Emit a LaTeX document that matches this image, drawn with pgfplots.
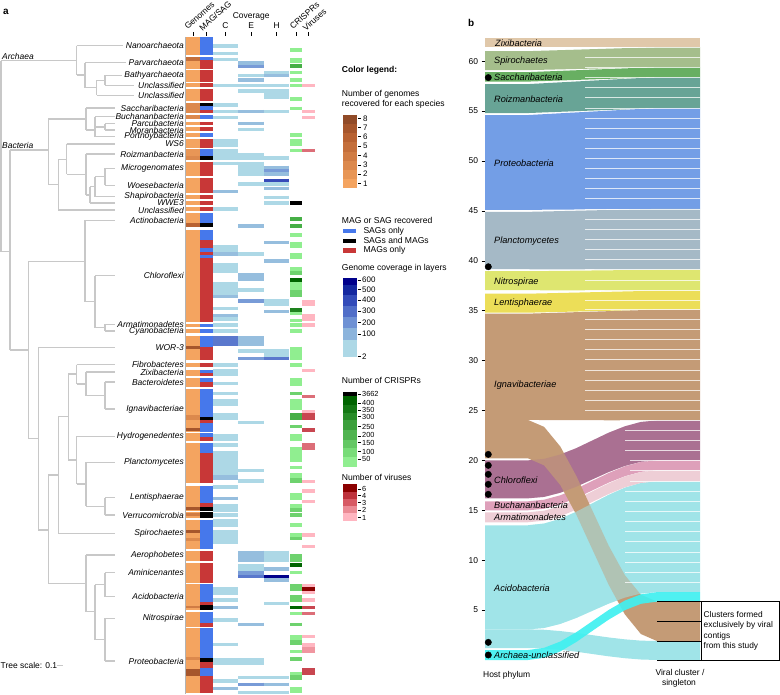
\documentclass[border=0pt]{standalone}
\usepackage{pgfplots}
\pgfplotsset{compat=1.18}
\usepackage{fontspec}
\setmainfont{Liberation Sans}
\definecolor{treeg}{RGB}{200,200,200}
\definecolor{g1}{RGB}{244,164,96}
\definecolor{g2}{RGB}{232,150,86}
\definecolor{g3}{RGB}{220,137,77}
\definecolor{g4}{RGB}{208,124,68}
\definecolor{g5}{RGB}{196,111,59}
\definecolor{g6}{RGB}{184,98,50}
\definecolor{g7}{RGB}{166,86,44}
\definecolor{g8}{RGB}{145,75,40}
\definecolor{sag}{RGB}{70,120,235}
\definecolor{mag}{RGB}{200,55,55}
\definecolor{cv1}{RGB}{173,216,230}
\definecolor{cv2}{RGB}{150,190,222}
\definecolor{cv3}{RGB}{120,155,215}
\definecolor{cv4}{RGB}{90,120,205}
\definecolor{cv5}{RGB}{55,75,185}
\definecolor{cv6}{RGB}{0,0,139}
\definecolor{lb2}{RGB}{20,40,160}
\definecolor{lb3}{RGB}{50,75,185}
\definecolor{lb4}{RGB}{80,110,200}
\definecolor{lb5}{RGB}{110,145,212}
\definecolor{lb6}{RGB}{140,180,220}
\definecolor{cr1}{RGB}{144,238,144}
\definecolor{cr2}{RGB}{110,210,110}
\definecolor{cr3}{RGB}{70,175,70}
\definecolor{cr4}{RGB}{30,130,30}
\definecolor{cr5}{RGB}{0,100,0}
\definecolor{lc2}{RGB}{20,120,20}
\definecolor{lc3}{RGB}{40,140,40}
\definecolor{lc4}{RGB}{60,160,60}
\definecolor{lc5}{RGB}{80,180,80}
\definecolor{lc6}{RGB}{100,200,100}
\definecolor{lc7}{RGB}{120,220,120}
\definecolor{v1}{RGB}{255,182,193}
\definecolor{v2}{RGB}{240,150,160}
\definecolor{v3}{RGB}{220,110,120}
\definecolor{v4}{RGB}{200,70,80}
\definecolor{v6}{RGB}{139,0,0}
\definecolor{lv2}{RGB}{190,50,60}
\definecolor{lv3}{RGB}{215,90,100}
\definecolor{lv4}{RGB}{235,140,150}
\definecolor{czix}{RGB}{224,200,170}
\definecolor{cspiro}{RGB}{165,190,140}
\definecolor{csacch}{RGB}{104,175,98}
\definecolor{croiz}{RGB}{104,164,150}
\definecolor{cproteo}{RGB}{115,158,230}
\definecolor{cplancto}{RGB}{165,185,198}
\definecolor{cnitro}{RGB}{222,230,112}
\definecolor{clenti}{RGB}{236,222,88}
\definecolor{cignav}{RGB}{196,155,118}
\definecolor{cchloro}{RGB}{170,112,146}
\definecolor{cbuch}{RGB}{222,160,186}
\definecolor{carmat}{RGB}{238,206,214}
\definecolor{cacido}{RGB}{160,228,232}
\definecolor{carch}{RGB}{64,240,240}
\tikzset{
 lab/.style={anchor=east, inner sep=0pt, font=\fontsize{8.5}{9}\selectfont\itshape},
 leg/.style={anchor=west, inner sep=0pt, font=\fontsize{8.6}{10}\selectfont},
 tl/.style={anchor=west, inner sep=0pt, font=\fontsize{8}{9}\selectfont},
 tls/.style={anchor=west, inner sep=0pt, font=\fontsize{7.4}{8}\selectfont},
 hd/.style={anchor=base west, inner sep=0pt, rotate=42, font=\fontsize{8.5}{9}\selectfont},
 blab/.style={anchor=west, inner sep=0pt, font=\fontsize{9.2}{10}\selectfont\itshape},
}
\begin{document}
\begin{tikzpicture}
\begin{axis}[at={(0,0)}, anchor=south west, width=780bp, height=695bp, scale only axis,
  xmin=0, xmax=780, ymin=0, ymax=695, y dir=reverse, hide axis, clip=false,
  unbounded coords=jump]
\addplot[draw=none] coordinates {(0,0)(780,695)};
% ---------- tree ----------
\addplot[treeg, line width=1.2bp] coordinates {
(1,60.7)(1,251.7)(0,nan)(1,60.7)(76.7,60.7)(0,nan)(76.7,45.7)(76.7,75)(0,nan)(76.7,45.7)(123,45.7)(0,nan)
(76.7,75)(85,75)(0,nan)(85,62.7)(85,87.7)(0,nan)(85,62.7)(126,62.7)(0,nan)(85,87.7)(96.7,87.7)(0,nan)
(96.7,80.3)(96.7,95.3)(0,nan)(96.7,95.3)(134,95.3)(0,nan)(96.7,80.3)(105,80.3)(0,nan)(105,75.3)(105,85.3)(0,nan)
(105,75.3)(122,75.3)(0,nan)(105,85.3)(134,85.3)(0,nan)
(1,251.7)(10,251.7)(0,nan)(10,150)(10,350)(0,nan)(10,150)(48.3,150)(0,nan)(48.3,119)(48.3,184.6)(0,nan)
(48.3,119)(86,119)(0,nan)(86,108)(86,130)(0,nan)(86,108)(115,108)(0,nan)(86,130)(95,130)(0,nan)
(95,116.7)(95,136.7)(0,nan)(95,116.7)(115,116.7)(0,nan)(95,136.7)(115,136.7)(0,nan)(95,127)(105,127)(0,nan)
(105,123.7)(105,130)(0,nan)(105,123.7)(115,123.7)(0,nan)(105,130)(115,130)(0,nan)
(48.3,184.6)(58.3,184.6)(0,nan)(58.3,159.2)(58.3,210)(0,nan)(58.3,210)(115,210)(0,nan)(58.3,159.2)(66.7,159.2)(0,nan)
(66.7,144)(66.7,174.5)(0,nan)(66.7,144)(115,144)(0,nan)(66.7,174.5)(86,174.5)(0,nan)(86,154)(86,194.9)(0,nan)
(86,154)(115,154)(0,nan)(86,194.9)(90,194.9)(0,nan)(90,186.7)(90,203)(0,nan)(90,203)(115,203)(0,nan)
(90,186.7)(95,186.7)(0,nan)(95,176.8)(95,196.7)(0,nan)(95,196.7)(115,196.7)(0,nan)(95,176.8)(105,176.8)(0,nan)
(105,168.3)(105,185.3)(0,nan)(105,168.3)(115,168.3)(0,nan)(105,185.3)(115,185.3)(0,nan)
(10,350)(28.3,350)(0,nan)(28.3,261.7)(28.3,438.3)(0,nan)(28.3,261.7)(85,261.7)(0,nan)(85,220.3)(85,301.7)(0,nan)
(85,220.3)(115,220.3)(0,nan)(85,301.7)(95,301.7)(0,nan)(95,275.7)(95,327.7)(0,nan)(95,275.7)(115,275.7)(0,nan)
(95,327.7)(105,327.7)(0,nan)(105,324.3)(105,331)(0,nan)(105,324.3)(115,324.3)(0,nan)(105,331)(115,331)(0,nan)
(28.3,438.3)(38.3,438.3)(0,nan)(38.3,347.3)(38.3,530)(0,nan)(38.3,347.3)(115,347.3)(0,nan)(38.3,530)(48.3,530)(0,nan)
(48.3,475)(48.3,583.3)(0,nan)(48.3,475)(58.3,475)(0,nan)(58.3,416.7)(58.3,533.3)(0,nan)(58.3,533.3)(115,533.3)(0,nan)
(58.3,416.7)(68.3,416.7)(0,nan)(68.3,374)(68.3,460)(0,nan)(68.3,374)(76.7,374)(0,nan)(76.7,364.7)(76.7,384)(0,nan)
(76.7,364.7)(115,364.7)(0,nan)(76.7,384)(86,384)(0,nan)(86,372)(86,395.5)(0,nan)(86,372)(115,372)(0,nan)
(86,395.5)(105,395.5)(0,nan)(105,382)(105,409)(0,nan)(105,382)(115,382)(0,nan)(105,409)(115,409)(0,nan)
(68.3,460)(76.7,460)(0,nan)(76.7,436.3)(76.7,484)(0,nan)(76.7,436.3)(115,436.3)(0,nan)(76.7,484)(86,484)(0,nan)
(86,462.3)(86,506.4)(0,nan)(86,462.3)(115,462.3)(0,nan)(86,506.4)(105,506.4)(0,nan)(105,497.7)(105,515)(0,nan)
(105,497.7)(115,497.7)(0,nan)(105,515)(115,515)(0,nan)
(48.3,583.3)(86,583.3)(0,nan)(86,555)(86,611.7)(0,nan)(86,555)(115,555)(0,nan)(86,611.7)(95,611.7)(0,nan)
(95,584.7)(95,639.7)(0,nan)(95,584.7)(105,584.7)(0,nan)(105,572.7)(105,596.7)(0,nan)(105,572.7)(115,572.7)(0,nan)
(105,596.7)(115,596.7)(0,nan)(95,639.7)(105,639.7)(0,nan)(105,618.3)(105,661)(0,nan)(105,618.3)(115,618.3)(0,nan)
(105,661)(115,661)(0,nan)(56.7,665.7)(63.3,665.7)};
% ---------- genomes column ----------
\addplot[black!30, line width=0.7bp] coordinates {(185.6,37)(185.6,694)};
\addplot[g1, line width=14.3bp] coordinates {
(192.9,37.3)(192.9,55)(0,nan)(192.9,57.3)(192.9,69)(0,nan)(192.9,70)(192.9,81.7)(0,nan)(192.9,83.3)(192.9,87.3)(0,nan)
(192.9,89.3)(192.9,101)(0,nan)(192.9,103.3)(192.9,113.3)(0,nan)(192.9,115)(192.9,119.3)(0,nan)(192.9,121.7)(192.9,125.3)(0,nan)
(192.9,127.3)(192.9,131)(0,nan)(192.9,133.3)(192.9,137.3)(0,nan)(192.9,139.3)(192.9,147.7)(0,nan)(192.9,148.7)(192.9,160)(0,nan)
(192.9,161.7)(192.9,176)(0,nan)(192.9,178.3)(192.9,193.3)(0,nan)(192.9,195)(192.9,199)(0,nan)(192.9,201)(192.9,205)(0,nan)
(192.9,206.7)(192.9,211)(0,nan)(192.9,213.3)(192.9,227.3)(0,nan)(192.9,230)(192.9,321.7)(0,nan)(192.9,324)(192.9,326.7)(0,nan)
(192.9,329.3)(192.9,333.3)(0,nan)(192.9,335.7)(192.9,360)(0,nan)(192.9,362.7)(192.9,367.3)(0,nan)(192.9,370)(192.9,376)(0,nan)
(192.9,378.3)(192.9,386.7)(0,nan)(192.9,389)(192.9,431.7)(0,nan)(192.9,433.3)(192.9,440.7)(0,nan)(192.9,443.3)(192.9,483.3)(0,nan)
(192.9,485.5)(192.9,510.5)(0,nan)(192.9,512)(192.9,517.5)(0,nan)(192.9,520)(192.9,549)(0,nan)(192.9,551)(192.9,561)(0,nan)
(192.9,563.3)(192.9,582.7)(0,nan)(192.9,584)(192.9,610)(0,nan)(192.9,611.7)(192.9,626.7)(0,nan)(192.9,628.3)(192.9,693)(0,nan)
(350,179.1)(350,188.3)};
\addplot[g2, line width=14.3bp] coordinates {(192.9,148.7)(192.9,156)(0,nan)(350,170)(350,179.1)};
\addplot[g3, line width=14.3bp] coordinates {(192.9,103.3)(192.9,113.3)(0,nan)(192.9,115)(192.9,119.3)(0,nan)(192.9,156)(192.9,160)(0,nan)
(192.9,415)(192.9,420)(0,nan)(192.9,538.3)(192.9,541)(0,nan)(192.9,657.3)(192.9,660)(0,nan)(350,160.8)(350,170)};
\addplot[g4, line width=14.3bp] coordinates {(192.9,512.7)(192.9,516)(0,nan)(192.9,605.7)(192.9,608.3)(0,nan)(350,151.6)(350,160.8)};
\addplot[g5, line width=14.3bp] coordinates {(192.9,57.3)(192.9,61)(0,nan)(350,142.5)(350,151.6)};
\addplot[g6, line width=14.3bp] coordinates {(192.9,222.7)(192.9,226.7)(0,nan)(350,133.3)(350,142.5)};
\addplot[g7, line width=14.3bp] coordinates {(192.9,346)(192.9,349.3)(0,nan)(192.9,428.3)(192.9,430.7)(0,nan)(192.9,507.3)(192.9,510)(0,nan)
(192.9,530)(192.9,533.3)(0,nan)(192.9,669.3)(192.9,676)(0,nan)(350,124.2)(350,133.3)};
\addplot[g8, line width=14.3bp] coordinates {(350,115)(350,124.2)};
% ---------- MAG/SAG column ----------
\addplot[sag, line width=12.7bp] coordinates {
(206.4,37.3)(206.4,55)(0,nan)(206.4,57.3)(206.4,60.5)(0,nan)(206.4,106)(206.4,109.7)(0,nan)(206.4,115)(206.4,119.3)(0,nan)
(206.4,133.3)(206.4,137.3)(0,nan)(206.4,148.7)(206.4,155.7)(0,nan)(206.4,213.3)(206.4,222.7)(0,nan)(206.4,230)(206.4,240)(0,nan)
(206.4,248.3)(206.4,251.7)(0,nan)(206.4,255)(206.4,258.3)(0,nan)(206.4,324)(206.4,326.7)(0,nan)(206.4,329.3)(206.4,333.3)(0,nan)
(206.4,335.7)(206.4,346.7)(0,nan)(206.4,370)(206.4,373)(0,nan)(206.4,378.3)(206.4,382)(0,nan)(206.4,389)(206.4,416.7)(0,nan)
(206.4,423.3)(206.4,431.7)(0,nan)(206.4,433.3)(206.4,437)(0,nan)(206.4,443.3)(206.4,453.3)(0,nan)(206.4,485.5)(206.4,503.3)(0,nan)
(206.4,520)(206.4,549)(0,nan)(206.4,584)(206.4,601.7)(0,nan)(206.4,611.7)(206.4,623.3)(0,nan)(206.4,628.3)(206.4,658.3)(0,nan)
(206.4,668.3)(206.4,676)(0,nan)(349.4,228.7)(349.4,233.3)};
\addplot[black, line width=12.7bp] coordinates {
(206.4,103.3)(206.4,106)(0,nan)(206.4,155.7)(206.4,160)(0,nan)(206.4,222.7)(206.4,227.3)(0,nan)(206.4,416.7)(206.4,420)(0,nan)
(206.4,506.7)(206.4,510.5)(0,nan)(206.4,512)(206.4,517.5)(0,nan)(206.4,605)(206.4,610)(0,nan)(206.4,658.3)(206.4,661.7)(0,nan)
(349.4,238.5)(349.4,243.2)};
\addplot[mag, line width=12.7bp] coordinates {
(206.4,60.5)(206.4,69)(0,nan)(206.4,70)(206.4,81.7)(0,nan)(206.4,83.3)(206.4,87.3)(0,nan)(206.4,89.3)(206.4,101)(0,nan)
(206.4,109.7)(206.4,113.3)(0,nan)(206.4,121.7)(206.4,125.3)(0,nan)(206.4,127.3)(206.4,131)(0,nan)(206.4,139.3)(206.4,147.7)(0,nan)
(206.4,161.7)(206.4,176)(0,nan)(206.4,178.3)(206.4,193.3)(0,nan)(206.4,195)(206.4,199)(0,nan)(206.4,201)(206.4,205)(0,nan)
(206.4,206.7)(206.4,211)(0,nan)(206.4,240)(206.4,248.3)(0,nan)(206.4,251.7)(206.4,255)(0,nan)(206.4,258.3)(206.4,321.7)(0,nan)
(206.4,346.7)(206.4,360)(0,nan)(206.4,362.7)(206.4,367.3)(0,nan)(206.4,373)(206.4,376)(0,nan)(206.4,382)(206.4,386.7)(0,nan)
(206.4,420)(206.4,423.3)(0,nan)(206.4,437)(206.4,440.7)(0,nan)(206.4,453.3)(206.4,483.3)(0,nan)(206.4,503.3)(206.4,506.7)(0,nan)
(206.4,551)(206.4,561)(0,nan)(206.4,563.3)(206.4,582.7)(0,nan)(206.4,601.7)(206.4,605)(0,nan)(206.4,623.3)(206.4,626.7)(0,nan)
(206.4,661.7)(206.4,668.3)(0,nan)(206.4,676)(206.4,693)(0,nan)(349.4,248)(349.4,252.7)};
% ---------- coverage C ----------
\addplot[cv1, line width=25.6bp] coordinates {
(225.5,44.3)(225.5,47.7)(0,nan)(225.5,51.7)(225.5,55)(0,nan)(225.5,57.7)(225.5,61)(0,nan)(225.5,84)(225.5,87.3)(0,nan)
(225.5,103.3)(225.5,106.7)(0,nan)(225.5,110)(225.5,113.3)(0,nan)(225.5,116)(225.5,119.3)(0,nan)(225.5,139.3)(225.5,146.7)(0,nan)
(225.5,149)(225.5,160)(0,nan)(225.5,161.7)(225.5,165.3)(0,nan)(225.5,207.3)(225.5,210.7)(0,nan)(225.5,245)(225.5,252.3)(0,nan)
(225.5,262.7)(225.5,273.3)(0,nan)(225.5,281.7)(225.5,295)(0,nan)(225.5,306.7)(225.5,310)(0,nan)(225.5,317.3)(225.5,320.7)(0,nan)
(225.5,323.3)(225.5,326.7)(0,nan)(225.5,329.3)(225.5,332.7)(0,nan)(225.5,363.3)(225.5,366.7)(0,nan)(225.5,369)(225.5,376)(0,nan)
(225.5,381.7)(225.5,385)(0,nan)(225.5,391.7)(225.5,395)(0,nan)(225.5,399)(225.5,405.7)(0,nan)(225.5,413.3)(225.5,420)(0,nan)
(225.5,434)(225.5,440.7)(0,nan)(225.5,443.3)(225.5,446.7)(0,nan)(225.5,450.7)(225.5,475)(0,nan)(225.5,485)(225.5,489.3)(0,nan)
(225.5,504)(225.5,511.7)(0,nan)(225.5,513.3)(225.5,516.7)(0,nan)(225.5,519.3)(225.5,526.7)(0,nan)(225.5,530)(225.5,544)(0,nan)
(225.5,587.3)(225.5,595)(0,nan)(225.5,598.3)(225.5,601.7)(0,nan)(225.5,618.3)(225.5,621.7)(0,nan)(225.5,642.7)(225.5,646)(0,nan)
(225.5,658.3)(225.5,665)(0,nan)(225.5,679.3)(225.5,682.7)};
\addplot[cv2, line width=25.6bp] coordinates {
(225.5,190)(225.5,193.3)(0,nan)(225.5,252.3)(225.5,255.7)(0,nan)(225.5,295)(225.5,298.3)(0,nan)(225.5,314)(225.5,317.3)(0,nan)
(225.5,475)(225.5,480)(0,nan)(225.5,496.7)(225.5,500)(0,nan)(225.5,606)(225.5,609.3)(0,nan)(225.5,686.7)(225.5,690)};
\addplot[cv4, line width=25.6bp] coordinates {(225.5,336)(225.5,346)};
% ---------- coverage E ----------
\addplot[cv1, line width=25.7bp] coordinates {
(251.2,74)(251.2,77.3)(0,nan)(251.2,84)(251.2,87.3)(0,nan)(251.2,89.3)(251.2,92.7)(0,nan)(251.2,127.7)(251.2,131)(0,nan)
(251.2,153.3)(251.2,160)(0,nan)(251.2,161.7)(251.2,176)(0,nan)(251.2,182.3)(251.2,185.7)(0,nan)(251.2,252.3)(251.2,255.7)(0,nan)
(251.2,288.3)(251.2,291.7)(0,nan)(251.2,349.3)(251.2,352.7)(0,nan)(251.2,420.7)(251.2,424)(0,nan)(251.2,469)(251.2,472.3)(0,nan)
(251.2,479.3)(251.2,483.3)(0,nan)(251.2,564)(251.2,570.7)(0,nan)(251.2,658.3)(251.2,665)(0,nan)(251.2,676)(251.2,679.3)(0,nan)
(251.2,690.7)(251.2,694)};
\addplot[cv2, line width=25.7bp] coordinates {
(251.2,61)(251.2,65)(0,nan)(251.2,78.3)(251.2,81.7)(0,nan)(251.2,110)(251.2,113.3)(0,nan)(251.2,121.7)(251.2,125)(0,nan)
(251.2,224.3)(251.2,227.7)(0,nan)(251.2,273.3)(251.2,280.7)(0,nan)(251.2,336)(251.2,346)(0,nan)(251.2,550.7)(251.2,561.7)(0,nan)
(251.2,622.7)(251.2,626)};
\addplot[cv3, line width=25.7bp] coordinates {
(251.2,65)(251.2,68.3)(0,nan)(251.2,299.3)(251.2,302.7)(0,nan)(251.2,356.7)(251.2,360)(0,nan)(251.2,570.7)(251.2,574.5)(0,nan)
(251.2,682.7)(251.2,686)};
\addplot[cv4, line width=25.7bp] coordinates {(251.2,574.5)(251.2,578.3)};
% ---------- coverage H ----------
\addplot[cv1, line width=25.3bp] coordinates {
(276.7,70.7)(276.7,74)(0,nan)(276.7,84)(276.7,87.3)(0,nan)(276.7,89.3)(276.7,99.3)(0,nan)(276.7,110)(276.7,113.3)(0,nan)
(276.7,156)(276.7,160)(0,nan)(276.7,182.3)(276.7,185.7)(0,nan)(276.7,195.7)(276.7,199)(0,nan)(276.7,201.3)(276.7,204.7)(0,nan)
(276.7,299.3)(276.7,306)(0,nan)(276.7,349.3)(276.7,356.7)(0,nan)(276.7,550.7)(276.7,561.7)(0,nan)(276.7,601.7)(276.7,605)(0,nan)
(276.7,676)(276.7,679.3)(0,nan)(276.7,690.7)(276.7,694)};
\addplot[cv2, line width=25.3bp] coordinates {
(276.7,74)(276.7,77.3)(0,nan)(276.7,165.7)(276.7,169)(0,nan)(276.7,172.3)(276.7,176)(0,nan)(276.7,186.7)(276.7,190)(0,nan)
(276.7,241)(276.7,244.3)(0,nan)(276.7,259.3)(276.7,262.7)(0,nan)(276.7,310)(276.7,313.3)(0,nan)(276.7,567.3)(276.7,570.7)(0,nan)
(276.7,578.3)(276.7,581.7)(0,nan)(276.7,682.7)(276.7,686)};
\addplot[cv3, line width=25.3bp] coordinates {(276.7,169)(276.7,172.3)};
\addplot[cv4, line width=25.3bp] coordinates {(276.7,356.7)(276.7,360)};
\addplot[cv5, line width=25.3bp] coordinates {(276.7,178.7)(276.7,182.3)};
\addplot[cv6, line width=25.3bp] coordinates {(276.7,575)(276.7,578.3)};
% ---------- CRISPRs ----------
\addplot[cr1, line width=12.3bp] coordinates {
(296.2,48.3)(296.2,51.7)(0,nan)(296.2,57.7)(296.2,63.3)(0,nan)(296.2,70.7)(296.2,74)(0,nan)(296.2,78.3)(296.2,81.7)(0,nan)
(296.2,84)(296.2,87.3)(0,nan)(296.2,97.3)(296.2,100.7)(0,nan)(296.2,106.7)(296.2,110)(0,nan)(296.2,133.3)(296.2,136.7)(0,nan)
(296.2,139.3)(296.2,146)(0,nan)(296.2,149)(296.2,152.3)(0,nan)(296.2,233.3)(296.2,236.7)(0,nan)(296.2,241.7)(296.2,248.3)(0,nan)
(296.2,252.7)(296.2,259.3)(0,nan)(296.2,267.3)(296.2,271)(0,nan)(296.2,281.7)(296.2,290)(0,nan)(296.2,311.7)(296.2,315)(0,nan)
(296.2,319)(296.2,322.3)(0,nan)(296.2,323.3)(296.2,326.7)(0,nan)(296.2,329.3)(296.2,332.7)(0,nan)(296.2,346.7)(296.2,360)(0,nan)
(296.2,363.3)(296.2,366.7)(0,nan)(296.2,378.3)(296.2,385.7)(0,nan)(296.2,399)(296.2,410)(0,nan)(296.2,434)(296.2,440.7)(0,nan)
(296.2,447.3)(296.2,461.7)(0,nan)(296.2,465.7)(296.2,469)(0,nan)(296.2,473.3)(296.2,478)(0,nan)(296.2,493.3)(296.2,500)(0,nan)
(296.2,504)(296.2,508)(0,nan)(296.2,523.3)(296.2,526.7)(0,nan)(296.2,533.3)(296.2,537)(0,nan)(296.2,570.7)(296.2,574)(0,nan)
(296.2,611.7)(296.2,615)(0,nan)(296.2,635)(296.2,640)(0,nan)(296.2,650)(296.2,653.3)(0,nan)(296.2,671.7)(296.2,675)(0,nan)
(296.2,686.7)(296.2,693.3)};
\addplot[cr2, line width=12.3bp] coordinates {
(296.2,271)(296.2,274.7)(0,nan)(296.2,290)(296.2,296.7)(0,nan)(296.2,391.7)(296.2,395)(0,nan)(296.2,425)(296.2,428.3)(0,nan)
(296.2,478)(296.2,483.3)(0,nan)(296.2,508)(296.2,511.7)(0,nan)(296.2,513.3)(296.2,516.7)(0,nan)(296.2,537)(296.2,540)(0,nan)
(296.2,554)(296.2,561.7)(0,nan)(296.2,584)(296.2,590.7)(0,nan)(296.2,595)(296.2,601.7)(0,nan)(296.2,622.7)(296.2,626)(0,nan)
(296.2,640)(296.2,645)(0,nan)(296.2,657.3)(296.2,660.7)(0,nan)(296.2,675)(296.2,680)};
\addplot[cr3, line width=12.3bp] coordinates {
(296.2,64.3)(296.2,68.3)(0,nan)(296.2,217.3)(296.2,220.7)(0,nan)(296.2,224.3)(296.2,227.7)(0,nan)(296.2,413.3)(296.2,420)};
\addplot[cr4, line width=12.3bp] coordinates {(296.2,308.3)(296.2,311.7)};
\addplot[cr5, line width=12.3bp] coordinates {(296.2,278.3)(296.2,281.7)(0,nan)(296.2,563.3)(296.2,567.3)(0,nan)(296.2,606)(296.2,609.3)};
\addplot[black, line width=12.3bp] coordinates {(296.2,201.3)(296.2,204.7)};
% ---------- Viruses ----------
\addplot[v1, line width=12.7bp] coordinates {
(308.7,84)(308.7,87.3)(0,nan)(308.7,110)(308.7,113.3)(0,nan)(308.7,116)(308.7,119.3)(0,nan)(308.7,300)(308.7,306)(0,nan)
(308.7,314)(308.7,321)(0,nan)(308.7,323.3)(308.7,327.3)(0,nan)(308.7,369)(308.7,372.3)(0,nan)(308.7,410)(308.7,413.3)(0,nan)
(308.7,480)(308.7,483.3)(0,nan)(308.7,489.3)(308.7,492.7)(0,nan)(308.7,500)(308.7,503.3)(0,nan)(308.7,533.3)(308.7,536.7)(0,nan)
(308.7,545)(308.7,548.3)(0,nan)(308.7,584)(308.7,587.3)(0,nan)(308.7,590.7)(308.7,594)(0,nan)(308.7,598.3)(308.7,601.7)(0,nan)
(308.7,635)(308.7,638.3)(0,nan)(308.7,643.3)(308.7,647)};
\addplot[v2, line width=12.7bp] coordinates {(308.7,647)(308.7,653.3)};
\addplot[v3, line width=12.7bp] coordinates {(308.7,149)(308.7,152.3)(0,nan)(308.7,395)(308.7,398.3)(0,nan)(308.7,443.3)(308.7,450)(0,nan)(308.7,611.7)(308.7,615)};
\addplot[v4, line width=12.7bp] coordinates {(308.7,413.3)(308.7,420)(0,nan)(308.7,428.3)(308.7,431.7)(0,nan)(308.7,606)(308.7,609.3)(0,nan)(308.7,668.3)(308.7,675)};
\addplot[v6, line width=12.7bp] coordinates {(308.7,587.3)(308.7,590.7)};
% ---------- legend colour bars ----------
\addplot[cv6, line width=14bp] coordinates {(349.7,278.3)(349.7,285)};
\addplot[lb2, line width=14bp] coordinates {(349.7,285)(349.7,295)};
\addplot[lb3, line width=14bp] coordinates {(349.7,295)(349.7,306)};
\addplot[lb4, line width=14bp] coordinates {(349.7,306)(349.7,317)};
\addplot[lb5, line width=14bp] coordinates {(349.7,317)(349.7,328)};
\addplot[lb6, line width=14bp] coordinates {(349.7,328)(349.7,340)};
\addplot[cv1, line width=14bp] coordinates {(349.7,340)(349.7,357.3)};
\addplot[black, line width=14bp] coordinates {(349.7,391.7)(349.7,396)};
\addplot[cr5, line width=14bp] coordinates {(349.7,396)(349.7,405)};
\addplot[lc2, line width=14bp] coordinates {(349.7,405)(349.7,413)};
\addplot[lc3, line width=14bp] coordinates {(349.7,413)(349.7,420)};
\addplot[lc4, line width=14bp] coordinates {(349.7,420)(349.7,430)};
\addplot[lc5, line width=14bp] coordinates {(349.7,430)(349.7,440)};
\addplot[lc6, line width=14bp] coordinates {(349.7,440)(349.7,448)};
\addplot[lc7, line width=14bp] coordinates {(349.7,448)(349.7,457)};
\addplot[cr1, line width=14bp] coordinates {(349.7,457)(349.7,466.7)};
\addplot[v6, line width=14bp] coordinates {(349.7,484.3)(349.7,492)};
\addplot[lv2, line width=14bp] coordinates {(349.7,492)(349.7,499)};
\addplot[lv3, line width=14bp] coordinates {(349.7,499)(349.7,506)};
\addplot[lv4, line width=14bp] coordinates {(349.7,506)(349.7,513)};
\addplot[v1, line width=14bp] coordinates {(349.7,513)(349.7,521)};
% legend ticks and header ticks
\addplot[black, line width=0.5bp] coordinates {
(358,118.3)(361,118.3)(0,nan)(358,127.7)(361,127.7)(0,nan)(358,136.7)(361,136.7)(0,nan)(358,146)(361,146)(0,nan)
(358,155.7)(361,155.7)(0,nan)(358,165)(361,165)(0,nan)(358,174)(361,174)(0,nan)(358,183.3)(361,183.3)(0,nan)
(357.5,280)(360.5,280)(0,nan)(357.5,289.3)(360.5,289.3)(0,nan)(357.5,300)(360.5,300)(0,nan)(357.5,311)(360.5,311)(0,nan)
(357.5,322.7)(360.5,322.7)(0,nan)(357.5,334)(360.5,334)(0,nan)(357.5,356.7)(360.5,356.7)(0,nan)
(357.5,394)(360.5,394)(0,nan)(357.5,403.3)(360.5,403.3)(0,nan)(357.5,410.7)(360.5,410.7)(0,nan)(357.5,416.7)(360.5,416.7)(0,nan)
(357.5,426.7)(360.5,426.7)(0,nan)(357.5,436)(360.5,436)(0,nan)(357.5,442.3)(360.5,442.3)(0,nan)(357.5,451.7)(360.5,451.7)(0,nan)
(357.5,459)(360.5,459)(0,nan)
(357.5,489)(360.5,489)(0,nan)(357.5,495.7)(360.5,495.7)(0,nan)(357.5,502.3)(360.5,502.3)(0,nan)(357.5,510)(360.5,510)(0,nan)
(357.5,517.7)(360.5,517.7)(0,nan)
(192.9,32.3)(192.9,36)(0,nan)(206.4,32.3)(206.4,36)(0,nan)(225.5,32.3)(225.5,36)(0,nan)(251.2,32.3)(251.2,36)(0,nan)
(276.7,32.3)(276.7,36)(0,nan)(296.2,32.3)(296.2,36)(0,nan)(308.7,32.3)(308.7,36)};
% ---------- texts panel a ----------
\node[anchor=west, inner sep=0pt, font=\fontsize{10}{12}\selectfont\bfseries] at (axis cs:3,11.7) {a};
\node[anchor=west, inner sep=0pt, font=\fontsize{10}{12}\selectfont\bfseries] at (axis cs:468,22.7) {b};
\node[hd] at (axis cs:187.7,30) {Genomes};
\node[hd] at (axis cs:202.5,31.5) {MAG/SAG};
\node[hd] at (axis cs:293,30) {CRISPRs};
\node[hd] at (axis cs:306,31.5) {Viruses};
\node[inner sep=0pt, font=\fontsize{8.5}{9}\selectfont] at (axis cs:251.2,16.7) {Coverage};
\node[inner sep=0pt, font=\fontsize{8.5}{9}\selectfont] at (axis cs:225.5,25.7) {C};
\node[inner sep=0pt, font=\fontsize{8.5}{9}\selectfont] at (axis cs:251.2,25.7) {E};
\node[inner sep=0pt, font=\fontsize{8.5}{9}\selectfont] at (axis cs:276.7,25.7) {H};
\node[anchor=west, inner sep=0pt, font=\fontsize{8.5}{9}\selectfont\itshape] at (axis cs:2,56.2) {Archaea};
\node[anchor=west, inner sep=0pt, font=\fontsize{8.5}{9}\selectfont\itshape] at (axis cs:2,145.5) {Bacteria};
\node[anchor=west, inner sep=0pt, font=\fontsize{8.5}{9}\selectfont] at (axis cs:0.5,665.7) {Tree scale: 0.1};
\node[lab] at (axis cs:184,45.7) {Nanoarchaeota};
\node[lab] at (axis cs:184,62.7) {Parvarchaeota};
\node[lab] at (axis cs:184,75.3) {Bathyarchaeota};
\node[lab] at (axis cs:184,85.3) {Unclassified};
\node[lab] at (axis cs:184,95.3) {Unclassified};
\node[lab] at (axis cs:184,108) {Saccharibacteria};
\node[lab] at (axis cs:184,116.7) {Buchananbacteria};
\node[lab] at (axis cs:184,123.7) {Parcubacteria};
\node[lab] at (axis cs:184,130) {Moranbacteria};
\node[lab] at (axis cs:184,136.7) {Portnoybacteria};
\node[lab] at (axis cs:184,144) {WS6};
\node[lab] at (axis cs:184,154) {Roizmanbacteria};
\node[lab] at (axis cs:184,168.3) {Microgenomates};
\node[lab] at (axis cs:184,185.3) {Woesebacteria};
\node[lab] at (axis cs:184,196.7) {Shapirobacteria};
\node[lab] at (axis cs:184,203) {WWE3};
\node[lab] at (axis cs:184,210) {Unclassified};
\node[lab] at (axis cs:184,220.3) {Actinobacteria};
\node[lab] at (axis cs:184,275.7) {Chloroflexi};
\node[lab] at (axis cs:184,324.3) {Armatimonadetes};
\node[lab] at (axis cs:184,331) {Cyanobacteria};
\node[lab] at (axis cs:184,347.3) {WOR-3};
\node[lab] at (axis cs:184,364.7) {Fibrobacteres};
\node[lab] at (axis cs:184,372) {Zixibacteria};
\node[lab] at (axis cs:184,382) {Bacteroidetes};
\node[lab] at (axis cs:184,409) {Ignavibacteriae};
\node[lab] at (axis cs:184,436.3) {Hydrogenedentes};
\node[lab] at (axis cs:184,462.3) {Planctomycetes};
\node[lab] at (axis cs:184,497.7) {Lentisphaerae};
\node[lab] at (axis cs:184,515) {Verrucomicrobia};
\node[lab] at (axis cs:184,533.3) {Spirochaetes};
\node[lab] at (axis cs:184,555) {Aerophobetes};
\node[lab] at (axis cs:184,572.7) {Aminicenantes};
\node[lab] at (axis cs:184,596.7) {Acidobacteria};
\node[lab] at (axis cs:184,618.3) {Nitrospirae};
\node[lab] at (axis cs:184,661) {Proteobacteria};
% legend texts
\node[leg, font=\fontsize{8.6}{10}\selectfont\bfseries] at (axis cs:341.7,70.7) {Color legend:};
\node[leg] at (axis cs:341.7,94) {Number of genomes};
\node[leg] at (axis cs:341.7,104.7) {recovered for each species};
\node[leg] at (axis cs:341.7,220) {MAG or SAG recovered};
\node[leg] at (axis cs:363.3,231) {SAGs only};
\node[leg] at (axis cs:363.3,240.9) {SAGs and MAGs};
\node[leg] at (axis cs:363.3,250.4) {MAGs only};
\node[leg] at (axis cs:341.7,268.3) {Genome coverage in layers};
\node[leg] at (axis cs:341.7,380) {Number of CRISPRs};
\node[leg] at (axis cs:341.7,477.7) {Number of viruses};
\node[tl] at (axis cs:363,118.3) {8};
\node[tl] at (axis cs:363,127.7) {7};
\node[tl] at (axis cs:363,136.7) {6};
\node[tl] at (axis cs:363,146) {5};
\node[tl] at (axis cs:363,155.7) {4};
\node[tl] at (axis cs:363,165) {3};
\node[tl] at (axis cs:363,174) {2};
\node[tl] at (axis cs:363,183.3) {1};
\node[tl] at (axis cs:362,280) {600};
\node[tl] at (axis cs:362,289.3) {500};
\node[tl] at (axis cs:362,300) {400};
\node[tl] at (axis cs:362,311) {300};
\node[tl] at (axis cs:362,322.7) {200};
\node[tl] at (axis cs:362,334) {100};
\node[tl] at (axis cs:362,356.7) {2};
\node[tls] at (axis cs:362,394) {3662};
\node[tls] at (axis cs:362,403.3) {400};
\node[tls] at (axis cs:362,410.3) {350};
\node[tls] at (axis cs:362,417.3) {300};
\node[tls] at (axis cs:362,426.7) {250};
\node[tls] at (axis cs:362,435.3) {200};
\node[tls] at (axis cs:362,442.8) {150};
\node[tls] at (axis cs:362,451.7) {100};
\node[tls] at (axis cs:362,459) {50};
\node[tls] at (axis cs:362,488.6) {6};
\node[tls] at (axis cs:362,495.7) {4};
\node[tls] at (axis cs:362,502.6) {3};
\node[tls] at (axis cs:362,510) {2};
\node[tls] at (axis cs:362,517.7) {1};
% panel b bottom texts
\node[inner sep=0pt, font=\fontsize{8.5}{10}\selectfont] at (axis cs:506.7,675) {Host phylum};
\node[inner sep=0pt, font=\fontsize{8.5}{10}\selectfont] at (axis cs:680,672.3) {Viral cluster /};
\node[inner sep=0pt, font=\fontsize{8.5}{10}\selectfont] at (axis cs:679,683.3) {singleton};
\node[anchor=west, inner sep=0pt, font=\fontsize{8.4}{10}\selectfont] at (axis cs:703.5,614.3) {Clusters formed};
\node[anchor=west, inner sep=0pt, font=\fontsize{8.4}{10}\selectfont] at (axis cs:703.5,625.3) {exclusively by viral};
\node[anchor=west, inner sep=0pt, font=\fontsize{8.4}{10}\selectfont] at (axis cs:703.5,636) {contigs};
\node[anchor=west, inner sep=0pt, font=\fontsize{8.4}{10}\selectfont] at (axis cs:703.5,646.3) {from this study};
\end{axis}
% ================= panel b =================
\begin{axis}[at={(485bp,35bp)}, anchor=south west, width=215bp, height=622.8bp, scale only axis,
  xmin=485, xmax=700, ymin=0, ymax=62.4, clip=false,
  axis x line=none, axis y line*=left, y axis line style={draw=none},
  ytick={5,10,...,60}, tick align=outside, major tick length=3.5bp,
  tick style={black, line width=0.5bp},
  yticklabel style={font=\fontsize{8.5}{10}\selectfont},
  /pgf/number format/assume math mode=true,
  unbounded coords=jump]
\addplot[fill=czix, draw=none] coordinates {(485,61.4)(700,61.4)(700,62.3)(485,62.3)} --cycle;
\addplot[fill=cspiro, draw=none] coordinates {(485,59.1)(528,59.1)(657,59.4)(700,59.4)(700,61.4)(657,61.4)(528,61.0)(485,61.0)} --cycle;
\addplot[fill=csacch, draw=none] coordinates {(485,57.95)(528,57.95)(657,58.4)(700,58.4)(700,59.4)(657,59.4)(528,58.9)(485,58.9)} --cycle;
\addplot[fill=croiz, draw=none] coordinates {(485,54.8)(528,54.8)(657,55.3)(700,55.3)(700,58.4)(657,58.4)(528,57.7)(485,57.7)} --cycle;
\addplot[fill=cproteo, draw=none] coordinates {(485,45.1)(528,45.1)(657,45.2)(700,45.2)(700,55.3)(657,55.3)(528,54.6)(485,54.6)} --cycle;
\addplot[fill=cplancto, draw=none] coordinates {(485,39.15)(528,39.15)(657,39.1)(700,39.1)(700,45.2)(657,45.2)(528,44.9)(485,44.9)} --cycle;
\addplot[fill=cnitro, draw=none] coordinates {(485,37.05)(528,37.05)(657,37.0)(700,37.0)(700,39.1)(657,39.1)(528,38.95)(485,38.95)} --cycle;
\addplot[fill=clenti, draw=none] coordinates {(485,34.8)(528,34.8)(657,35.1)(700,35.1)(700,37.0)(657,37.0)(528,36.7)(485,36.7)} --cycle;
\addplot[fill=cignav, draw=none] coordinates {(485,24.05)(528,24.05)(657,24.0)(700,24.0)(700,35.1)(657,35.1)(528,34.7)(485,34.7)} --cycle;
% Acidobacteria flows
\addplot[fill=cacido, draw=none] coordinates {(485,3.07)(528,3.07)(544.1,3.21)(560.3,3.62)(576.4,4.22)(592.5,4.94)(608.6,5.65)(624.8,6.25)(640.9,6.66)(657,6.8)(700,6.8)
 (700,17.9)(657,17.9)(640.9,17.73)(624.8,17.26)(608.6,16.54)(592.5,15.7)(576.4,14.86)(560.3,14.14)(544.1,13.67)(528,13.5)(485,13.5)} --cycle;
\addplot[fill=cacido, draw=none] coordinates {(485,1.2)(528,1.2)(544.1,1.15)(560.3,1.02)(576.4,0.83)(592.5,0.6)(608.6,0.37)(624.8,0.18)(640.9,0.05)(657,0)(700,0)
 (700,1.9)(657,1.9)(640.9,1.94)(624.8,2.07)(608.6,2.26)(592.5,2.49)(576.4,2.71)(560.3,2.90)(544.1,3.03)(528,3.07)(485,3.07)} --cycle;
% Chloroflexi, Buchananbacteria, Armatimonadetes
\addplot[fill=cchloro, draw=none] coordinates {(485,16.2)(528,16.2)(544.1,16.34)(560.3,16.76)(576.4,17.37)(592.5,18.1)(608.6,18.83)(624.8,19.44)(640.9,19.86)(657,20)(700,20)
 (700,24)(657,24)(640.9,23.85)(624.8,23.41)(608.6,22.77)(592.5,22.0)(576.4,21.23)(560.3,20.59)(544.1,20.15)(528,20)(485,20)} --cycle;
\addplot[fill=cbuch, draw=none] coordinates {(485,15)(528,15)(544.1,15.15)(560.3,15.59)(576.4,16.23)(592.5,17.0)(608.6,17.77)(624.8,18.41)(640.9,18.85)(657,19)(700,19)
 (700,20)(657,20)(640.9,19.84)(624.8,19.40)(608.6,18.73)(592.5,17.95)(576.4,17.17)(560.3,16.50)(544.1,16.06)(528,15.9)(485,15.9)} --cycle;
\addplot[fill=carmat, draw=none] coordinates {(485,13.8)(528,13.8)(544.1,13.96)(560.3,14.40)(576.4,15.07)(592.5,15.85)(608.6,16.63)(624.8,17.30)(640.9,17.74)(657,17.9)(700,17.9)
 (700,19)(657,19)(640.9,18.84)(624.8,18.39)(608.6,17.70)(592.5,16.9)(576.4,16.10)(560.3,15.41)(544.1,14.96)(528,14.8)(485,14.8)} --cycle;
% Ignavibacteriae flow to bottom
\addplot[fill=cignav, draw=none] coordinates {(485,20.2)(528,20.2)(544.1,19.50)(560.3,17.52)(576.4,14.55)(592.5,11.05)(608.6,7.55)(624.8,4.58)(640.9,2.60)(657,1.9)(700,1.9)
 (700,5.85)(657,5.85)(640.9,6.54)(624.8,8.51)(608.6,11.47)(592.5,14.95)(576.4,18.43)(560.3,21.39)(544.1,23.36)(528,24.05)(485,24.05)} --cycle;
% translucent overlays where flows cross
\addplot[fill=cchloro, draw=none, fill opacity=0.3] coordinates {(528,16.2)(544.1,16.34)(560.3,16.76)(576.4,17.37)(592.5,18.1)(608.6,18.83)(624.8,19.44)(640.9,19.86)(657,20)
 (657,24)(640.9,23.85)(624.8,23.41)(608.6,22.77)(592.5,22.0)(576.4,21.23)(560.3,20.59)(544.1,20.15)(528,20)} --cycle;
\addplot[fill=cacido, draw=none, fill opacity=0.55] coordinates {(528,3.07)(544.1,3.21)(560.3,3.62)(576.4,4.22)(592.5,4.94)(608.6,5.65)(624.8,6.25)(640.9,6.66)(657,6.8)
 (657,17.9)(640.9,17.73)(624.8,17.26)(608.6,16.54)(592.5,15.7)(576.4,14.86)(560.3,14.14)(544.1,13.67)(528,13.5)} --cycle;
% Archaea-unclassified
\addplot[fill=carch, draw=none, fill opacity=0.92] coordinates {(485,0)(528,0)(544.1,0.22)(560.3,0.86)(576.4,1.81)(592.5,2.93)(608.6,4.04)(624.8,4.99)(640.9,5.63)(657,5.85)(700,5.85)
 (700,6.8)(657,6.8)(640.9,6.58)(624.8,5.95)(608.6,5.01)(592.5,3.9)(576.4,2.79)(560.3,1.85)(544.1,1.22)(528,1.0)(485,1.0)} --cycle;
% thin white cluster separators
\addplot[white, line width=0.6bp, opacity=0.75] coordinates {
(585,61.4)(700,61.4)(0,nan)(585,60.4)(700,60.4)(0,nan)(585,59.4)(700,59.4)(0,nan)(585,58.4)(700,58.4)(0,nan)
(585,57.37)(700,57.37)(0,nan)(585,56.33)(700,56.33)(0,nan)(585,55.3)(700,55.3)(0,nan)(585,54.29)(700,54.29)(0,nan)
(585,53.28)(700,53.28)(0,nan)(585,52.27)(700,52.27)(0,nan)(585,51.26)(700,51.26)(0,nan)(585,50.25)(700,50.25)(0,nan)
(585,49.24)(700,49.24)(0,nan)(585,48.23)(700,48.23)(0,nan)(585,47.22)(700,47.22)(0,nan)(585,46.21)(700,46.21)(0,nan)
(585,45.2)(700,45.2)(0,nan)(585,44.18)(700,44.18)(0,nan)(585,43.17)(700,43.17)(0,nan)(585,42.15)(700,42.15)(0,nan)
(585,41.13)(700,41.13)(0,nan)(585,40.12)(700,40.12)(0,nan)(585,39.1)(700,39.1)(0,nan)(585,38.05)(700,38.05)(0,nan)
(585,37.0)(700,37.0)(0,nan)(585,36.05)(700,36.05)(0,nan)(585,35.1)(700,35.1)(0,nan)(585,34.1)(700,34.1)(0,nan)
(585,33.1)(700,33.1)(0,nan)(585,32.1)(700,32.1)(0,nan)(585,31.1)(700,31.1)(0,nan)(585,30.1)(700,30.1)(0,nan)
(585,29.0)(700,29.0)(0,nan)(585,28.0)(700,28.0)(0,nan)(585,27.0)(700,27.0)(0,nan)(585,26.0)(700,26.0)(0,nan)
(585,25.0)(700,25.0)(0,nan)(620,24.0)(700,24.0)(0,nan)(625,23)(700,23)(0,nan)(625,22)(700,22)(0,nan)(625,21)(700,21)(0,nan)
(630,20)(700,20)(0,nan)(630,19)(700,19)(0,nan)(630,17.9)(700,17.9)(0,nan)(625,16.9)(700,16.9)(0,nan)(625,15.9)(700,15.9)(0,nan)
(625,14.9)(700,14.9)(0,nan)(625,13.85)(700,13.85)(0,nan)(625,12.85)(700,12.85)(0,nan)(625,11.85)(700,11.85)(0,nan)
(625,10.8)(700,10.8)(0,nan)(625,9.8)(700,9.8)(0,nan)(625,8.8)(700,8.8)(0,nan)(625,7.8)(700,7.8)};
% annotation box
\addplot[black, line width=0.8bp] coordinates {(657,5.85)(779.3,5.85)(779.3,0)(657,0)(0,nan)(701.7,5.85)(701.7,0)(0,nan)
(657,3.9)(701.7,3.9)(0,nan)(657,1.9)(701.7,1.9)};
% black dots
\addplot[only marks, mark=*, mark size=3.2bp, black] coordinates {(488.3,58.35)(488.3,39.4)(488.3,20.6)(488.3,19.5)(488.3,18.6)(488.3,17.6)(488.3,16.6)(488.3,1.77)(488.3,0.5)};
% labels
\node[blab] at (axis cs:495,61.75) {Zixibacteria};
\node[blab] at (axis cs:494,60.05) {Spirochaetes};
\node[blab] at (axis cs:494,58.35) {Saccharibacteria};
\node[blab] at (axis cs:494,56.2) {Roizmanbacteria};
\node[blab] at (axis cs:494,49.77) {Proteobacteria};
\node[blab] at (axis cs:494,42.0) {Planctomycetes};
\node[blab] at (axis cs:494,37.9) {Nitrospirae};
\node[blab] at (axis cs:494,35.8) {Lentisphaerae};
\node[blab] at (axis cs:494,27.5) {Ignavibacteriae};
\node[blab] at (axis cs:494,18.04) {Chloroflexi};
\node[blab] at (axis cs:494,15.53) {Buchananbacteria};
\node[blab] at (axis cs:494,14.26) {Armatimonadetes};
\node[blab] at (axis cs:494,7.18) {Acidobacteria};
\node[blab] at (axis cs:494,0.5) {Archaea-unclassified};
\end{axis}
\pgfresetboundingbox
\path[use as bounding box] (0,0) rectangle (780bp,695bp);
\end{tikzpicture}
\end{document}
